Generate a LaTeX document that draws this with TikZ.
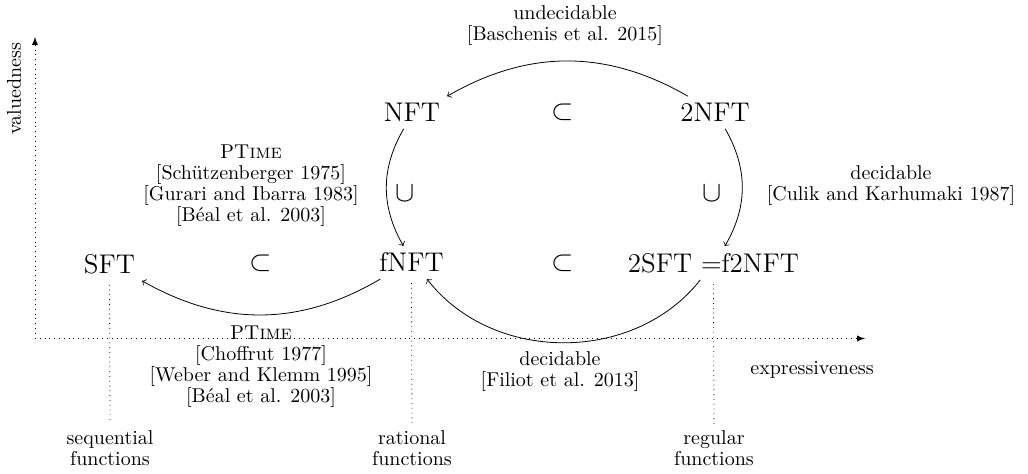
\documentclass[tikz,border=0pt]{standalone}
\usepackage{amsmath}
\usepackage{tikz}

\begin{document}
\begin{tikzpicture}[x=5pt,y=5pt,
            cls/.style={font=\fontsize{13.5}{16}\selectfont},
            cite/.style={font=\fontsize{10}{10.5}\selectfont, align=center},
            axis/.style={black, dotted, -latex},
            guide/.style={black, dotted}]
            \useasboundingbox (0,0) rectangle (102.8,-47.4);
            \coordinate (origin) at (3.5,-33.85);
            \coordinate (xend) at (86.5,-33.85);
            \coordinate (yend) at (3.5,-3.7);
            \draw [axis] (origin) -- (xend);
            \draw [axis] (origin) -- (yend);
            \node [cite, rotate=90] (valued) at (1.4,-8.9) {valuedness};
            \node [cite] (express) at (81.2,-37) {expressiveness};
            \node [cls] (nft) at (41.2,-11.25) {NFT};
            \node [cls] (twonft) at (71.5,-11.25) {2NFT};
            \node [cls] (sft) at (10.95,-26.4) {SFT};
            \node [cls] (fnft) at (41.15,-26.25) {fNFT};
            \node [cls] (twosft) at (71.35,-26.3) {2SFT =f2NFT};
            \node [cls] (subtop) at (56.3,-11.25) {$\subset$};
            \node [cls] (subleft) at (26.1,-26.3) {$\subset$};
            \node [cls] (subright) at (56.3,-26.3) {$\subset$};
            \node [cls] (cupleft) at (40.5,-19.4) {$\cup$};
            \node [cls] (cupright) at (71.2,-19.4) {$\cup$};
            \draw [black, ->] (twonft.149) to [bend right=30] (nft.north east);
            \node [cite] (undec) at (56.5,-2.6) {undecidable\\{}[Baschenis et al. 2015]};
            \draw [black, ->] (nft.243) to [bend right=30] (fnft.116);
            \node [cite] (ptimeup) at (25.1,-18.55) {P\textsc{Time}\\{}[Schützenberger 1975]\\{}[Gurari and Ibarra 1983]\\{}[Béal et al. 2003]};
            \draw [black, ->] (twonft.302) to [bend left=30] (twosft.56);
            \node [cite] (decup) at (89.1,-18.6) {decidable\\{}[Culik and Karhumaki 1987]};
            \draw [black, ->] (fnft.208) to [bend left=30] (sft.south east);
            \node [cite] (ptimelow) at (26.1,-36.65) {P\textsc{Time}\\{}[Choffrut 1977]\\{}[Weber and Klemm 1995]\\{}[Béal et al. 2003]};
            \draw [black, ->] (twosft.232) to [bend left=52] (fnft.313);
            \node [cite] (declow) at (56,-37.2) {decidable\\{}[Filiot et al. 2013]};
            \node [cite] (seq) at (11,-44.85) {sequential\\functions};
            \node [cite] (rat) at (41.2,-44.85) {rational\\functions};
            \node [cite] (reg) at (71.4,-44.85) {regular\\functions};
            \draw [guide] ([yshift=-2pt]sft.south) -- (seq.north);
            \draw [guide] ([yshift=-2pt]fnft.south) -- (rat.north);
            \draw [guide] ([yshift=-2pt]twosft.south) -- (reg.north);
        \end{tikzpicture}
\end{document}
